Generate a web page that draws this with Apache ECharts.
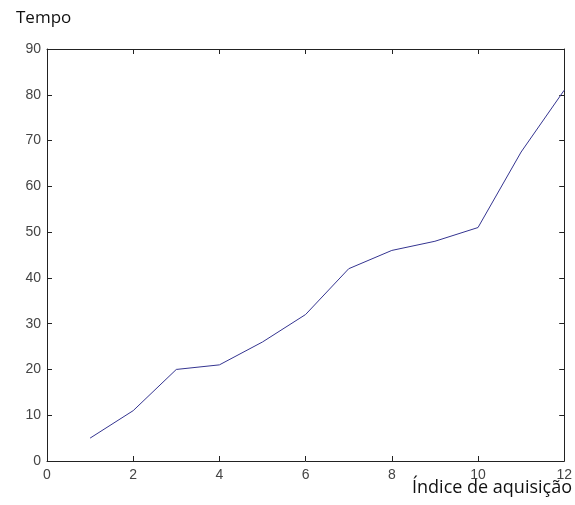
<!DOCTYPE html>
<html>
<head>
<meta charset="utf-8">
<script src="https://cdn.jsdelivr.net/npm/echarts@6/dist/echarts.min.js"></script>
<style>
  html, body { margin: 0; padding: 0; background: #fff; }
  #chart { width: 575px; height: 505px; }
</style>
</head>
<body>
<div id="chart"></div>
<script>
// Acquisition index vs. time
const indices = [1, 2, 3, 4, 5, 6, 7, 8, 9, 10, 11, 12];
const tempo = [5, 11, 20, 21, 26, 32, 42, 46, 48, 51, 67.5, 81];
const xTicks = { min: 0, max: 12, interval: 2 };
const yTicks = { min: 0, max: 90, interval: 10 };

const axisColor = '#222222';
const labelStyle = { color: '#444', fontFamily: 'Liberation Sans, Arial, sans-serif', fontSize: 14 };

const chart = echarts.init(document.getElementById('chart'));
const boxAxis = (base, extra) => Object.assign({
  type: 'value',
  min: base.min, max: base.max, interval: base.interval,
  axisLine: { show: true, onZero: false, lineStyle: { color: axisColor, width: 1 } },
  axisTick: { show: true, inside: true, length: 5, lineStyle: { color: axisColor } },
  splitLine: { show: false }
}, extra);

chart.setOption({
  animation: false,
  title: {
    text: 'Tempo', left: 11, top: 5,
    textStyle: { fontFamily: 'Open Sans, sans-serif', fontSize: 17, fontWeight: 'normal', color: '#111' }
  },
  grid: { left: 47, right: 7, top: 49, bottom: 44 },
  xAxis: [
    boxAxis(xTicks, { position: 'bottom', axisLabel: Object.assign({ margin: 7 }, labelStyle) }),
    boxAxis(xTicks, { position: 'top', axisLabel: { show: false } })
  ],
  yAxis: [
    boxAxis(yTicks, { position: 'left', axisLabel: Object.assign({ margin: 6 }, labelStyle) }),
    boxAxis(yTicks, { position: 'right', axisLabel: { show: false } })
  ],
  graphic: [{
    type: 'text', right: 3, top: 479,
    style: { text: 'Índice de aquisição', fontFamily: 'Open Sans, sans-serif', fontSize: 18, fill: '#111' }
  }],
  series: [{
    type: 'line',
    data: indices.map((x, i) => [x, tempo[i]]),
    showSymbol: false,
    lineStyle: { color: '#343490', width: 1 }
  }]
});
</script>
</body>
</html>
